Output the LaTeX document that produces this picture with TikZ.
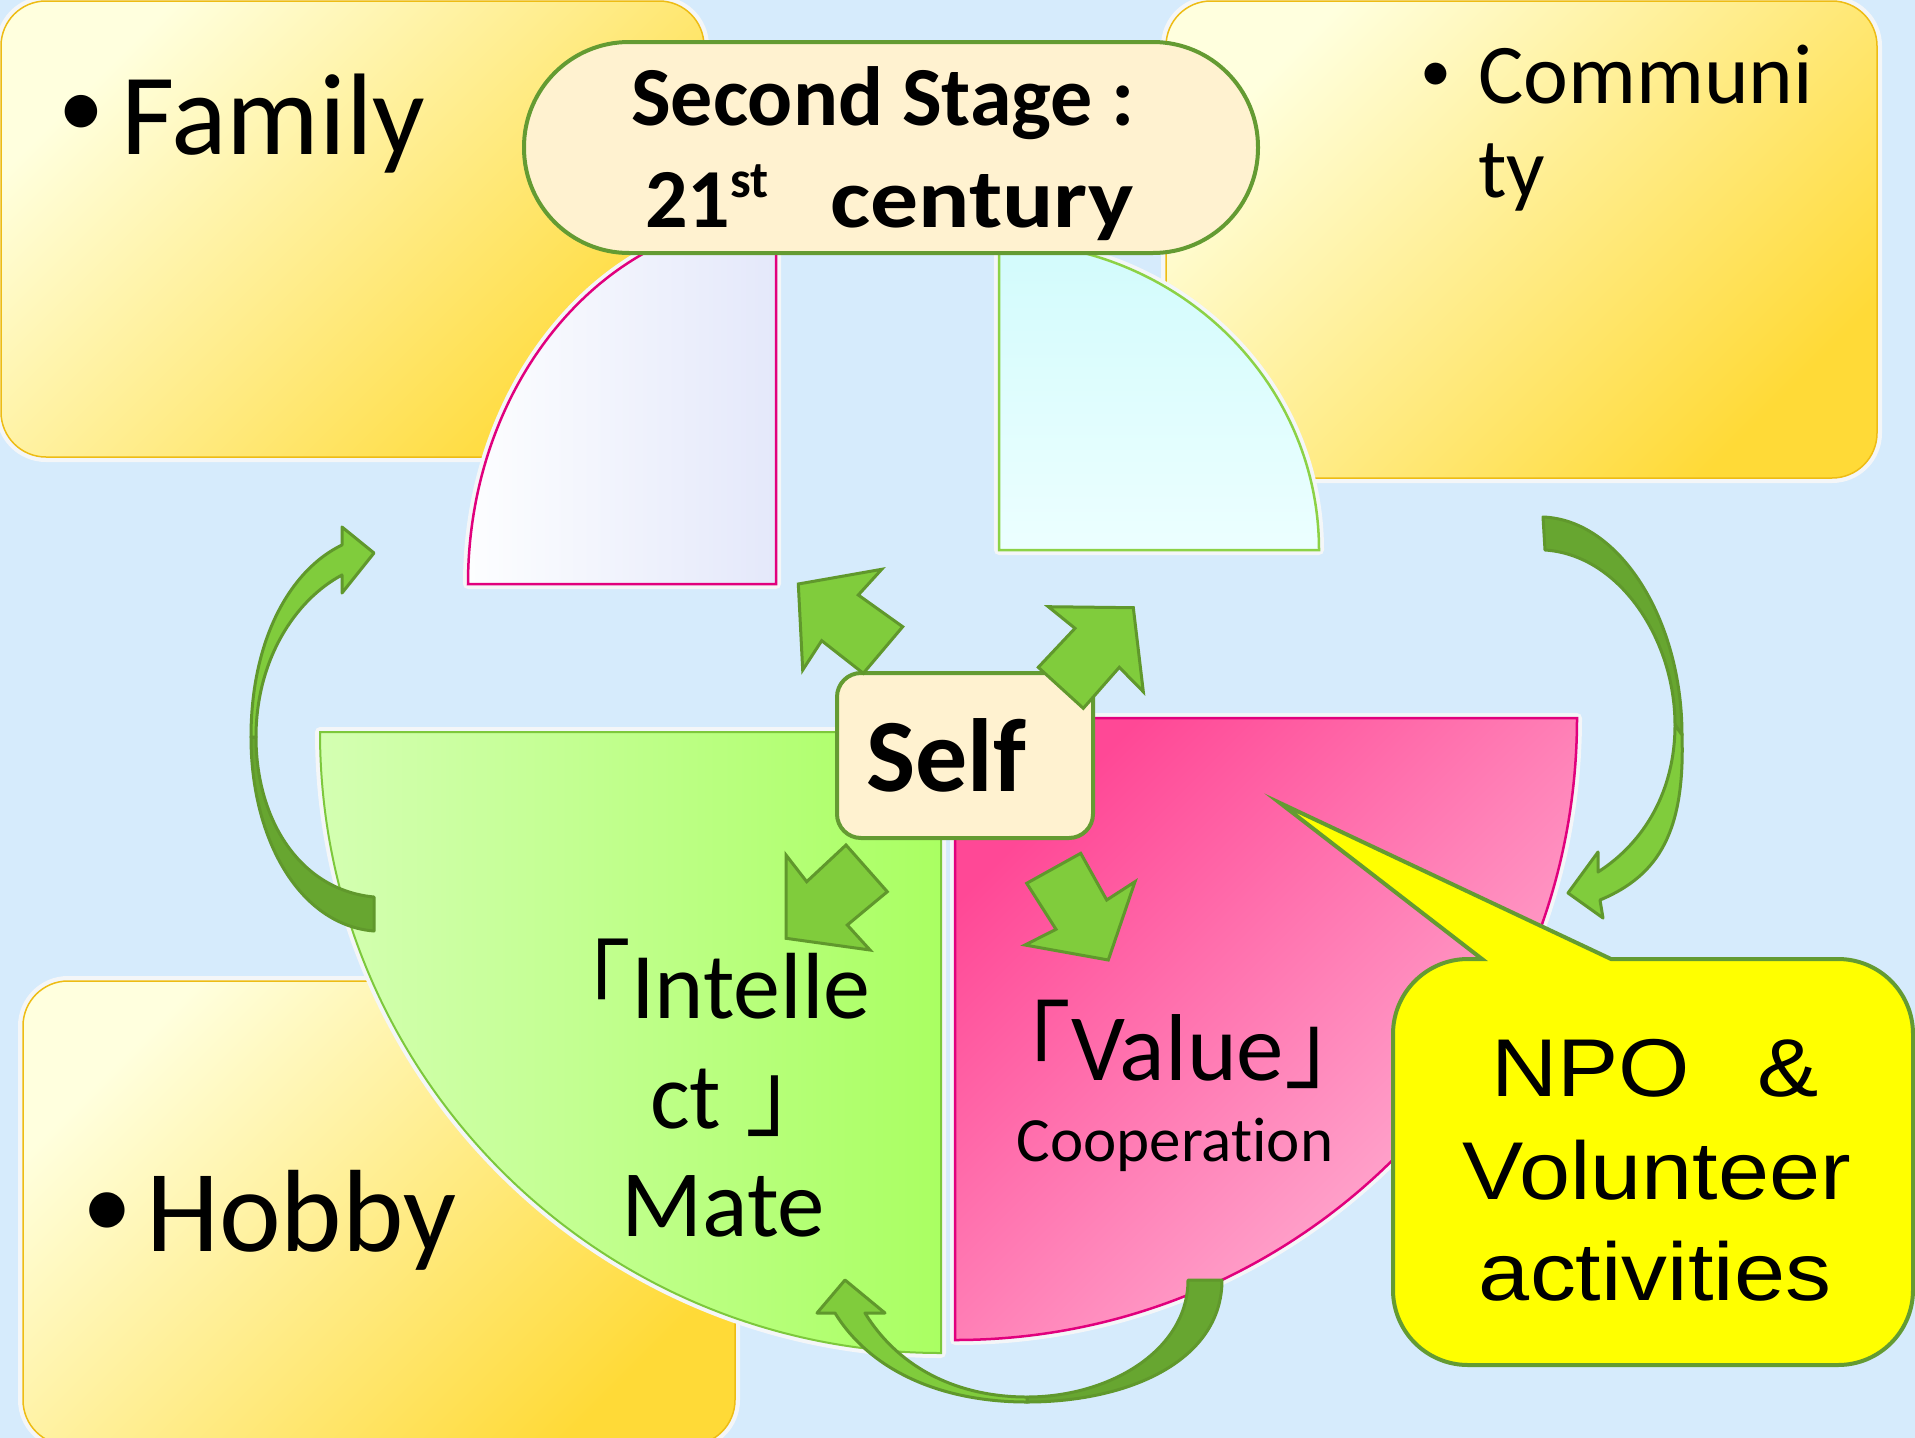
\documentclass[tikz,border=0pt]{standalone}
\usepackage{graphicx}
\usepackage{fontspec}
\setmainfont{Carlito}[Ligatures=NoCommon]
\newfontfamily\arialf{Liberation Sans}
\newfontfamily\cjkf{Noto Sans CJK JP}
\definecolor{bg}{RGB}{214,235,252}
\definecolor{ylight}{RGB}{255,255,222}
\definecolor{ymid}{RGB}{255,250,150}
\definecolor{ydark}{RGB}{255,218,55}
\definecolor{yline}{RGB}{238,188,20}
\definecolor{garrow}{RGB}{128,204,60}
\definecolor{gdark}{RGB}{103,166,48}
\definecolor{gline}{RGB}{96,152,44}
\definecolor{cream}{RGB}{255,242,208}
\definecolor{pilline}{RGB}{100,155,50}
\definecolor{pinkA}{RGB}{255,72,150}
\definecolor{pinkB}{RGB}{255,182,214}
\definecolor{pinkline}{RGB}{225,0,125}
\definecolor{gqA}{RGB}{212,255,178}
\definecolor{gqB}{RGB}{170,255,98}
\definecolor{gqline}{RGB}{125,200,60}
\definecolor{cyA}{RGB}{210,251,252}
\definecolor{cyB}{RGB}{236,255,255}
\definecolor{cyline}{RGB}{140,210,70}
\definecolor{lavA}{RGB}{253,254,255}
\definecolor{lavB}{RGB}{228,232,250}
\definecolor{callout}{RGB}{255,255,0}
\definecolor{glow}{RGB}{244,246,248}
\tikzset{
  ybox/.style={draw=yline, line width=1.5pt, rounded corners=45pt,
    top color=ylight, middle color=ymid, bottom color=ydark, shading angle=45},
  glowline/.style={draw=glow, line width=10pt, line join=round},
  blockarrow/.style={fill=garrow, draw=gline, line width=3pt, line join=miter},
  bandlight/.style={fill=garrow, draw=gline, line width=3pt, line join=round},
  banddark/.style={fill=gdark, draw=gline, line width=3pt, line join=round},
  txt/.style={inner sep=0pt, text=black},
}
\begin{document}
\begin{tikzpicture}[x=1pt,y=-1pt]
\useasboundingbox (0,0) rectangle (1915,1438);
\clip (0,0) rectangle (1915,1438);
\fill[bg] (0,0) rectangle (1915,1438);

% yellow boxes
\path[glowline, rounded corners=45pt] (1,1) rectangle (704,457);
\path[ybox] (1,1) rectangle (704,457);
\path[glowline, rounded corners=45pt] (1166,1) rectangle (1877,478);
\path[ybox] (1166,1) rectangle (1877,478);
\path[glowline, rounded corners=45pt] (23,981) rectangle (735,1445);
\path[ybox] (23,981) rectangle (735,1445);

% top quarters
\path[glowline] (776,584) -- (468,584) arc[start angle=180, end angle=270, x radius=308, y radius=366] -- cycle;
\path[draw=pinkline, line width=2.5pt, left color=lavA, right color=lavB]
  (776,584) -- (468,584) arc[start angle=180, end angle=270, x radius=308, y radius=366] -- cycle;
\path[glowline] (999,550) -- (999,242) arc[start angle=270, end angle=360, x radius=320, y radius=308] -- cycle;
\path[draw=cyline, line width=2.5pt, top color=cyA, bottom color=cyB]
  (999,550) -- (999,242) arc[start angle=270, end angle=360, x radius=320, y radius=308] -- cycle;

% bottom quarters
\path[glowline] (941,732) -- (320,732) arc[start angle=180, end angle=90, radius=621] -- cycle;
\path[draw=gqline, line width=2pt, left color=gqA, right color=gqB]
  (941,732) -- (320,732) arc[start angle=180, end angle=90, radius=621] -- cycle;
\path[glowline] (955,718) -- (1577,718) arc[start angle=0, end angle=90, radius=622] -- cycle;
\path[draw=pinkline, line width=2.5pt, top color=pinkA, bottom color=pinkB, shading angle=45]
  (955,718) -- (1577,718) arc[start angle=0, end angle=90, radius=622] -- cycle;

% texts in boxes
\node[txt, anchor=center, font=\fontsize{92}{100}\selectfont] (bulA) at (81,116) {•};
\node[txt, anchor=base west, font=\fontsize{116}{120}\selectfont] (family) at (121,154) {Family};
\node[txt, anchor=center, font=\fontsize{62}{70}\selectfont] (bulB) at (1436,77) {•};
\node[txt, anchor=base west, font=\fontsize{85}{90}\selectfont] (commA) at (1478,103) {Communi};
\node[txt, anchor=base west, font=\fontsize{85}{90}\selectfont] (commB) at (1478,197) {ty};
\node[txt, anchor=center, font=\fontsize{100}{110}\selectfont] (bulC) at (107,1216) {•};
\node[txt, anchor=base west, font=\fontsize{117}{120}\selectfont] (hobby) at (146,1251) {Hobby};

% quarter texts
\node[txt, anchor=base west, font=\fontsize{94}{100}\selectfont] (intA) at (537,1018) {{\cjkf 「}Intelle};
\node[txt, anchor=base west, font=\fontsize{94}{100}\selectfont] (intB) at (650,1128) {ct\hspace{24pt}{\cjkf 」}};
\node[txt, anchor=base west, font=\fontsize{95}{100}\selectfont] (intC) at (621,1236) {Mate};
\node[txt, anchor=base west, font=\fontsize{95}{100}\selectfont] (valA) at (976,1080) {{\cjkf 「}Value{\cjkf 」}};
\node[txt, anchor=base, font=\fontsize{63}{70}\selectfont] (valB) at (1175,1161) {Cooperation};

% second stage pill
\node[draw=pilline, fill=cream, line width=4pt, rounded corners=105pt,
  minimum width=734pt, minimum height=211pt, inner sep=0pt] (stage) at (891,147.5) {};
\node[txt, anchor=base, font=\bfseries\fontsize{84}{90}\selectfont] (stA) at (883,125) {Second Stage :};
\node[txt, anchor=base west, font=\bfseries\fontsize{84}{90}\selectfont] (stB) at (645,227)
  {21\raisebox{30pt}{\fontsize{52}{56}\selectfont st}\hspace{62pt}\scalebox{1.14}[1]{century}};

% self
\node[draw=pilline, fill=cream, line width=4pt, rounded corners=24pt,
  minimum width=256pt, minimum height=165pt, inner sep=0pt,
  font=\bfseries\fontsize{104}{110}\selectfont] (self) at (965,755.5) {Self\hbox to 38pt{}};

% block arrows around self
\draw[blockarrow] (798.3,584) -- (881.7,569.3) -- (858.3,595) -- (902.7,626.7) -- (863.3,673.3) -- (821.7,640.7) -- (802.7,670) -- cycle;
\draw[blockarrow] (1048.3,606.7) -- (1133.3,607.7) -- (1143.3,691.7) -- (1119.3,667.3) -- (1083.3,708.3) -- (1038.3,667.3) -- (1075,628.3) -- cycle;
\draw[blockarrow] (786,855) -- (806.7,881.7) -- (846,845) -- (887.3,891.7) -- (847.3,925) -- (870,950) -- (786,938.3) -- cycle;
\draw[blockarrow] (1026.7,883.3) -- (1080.7,853.3) -- (1106.7,900) -- (1135,881.7) -- (1108.3,960) -- (1025,945) -- (1056,929.3) -- cycle;

% left curved arrow (tail dark, head light)
\draw[banddark] (374,931) .. controls (300,925) and (251,840) .. (251,737)
  -- (256,737) .. controls (256,820) and (300,890) .. (374,897) -- cycle;
\draw[bandlight] (251,737) .. controls (251,640) and (290,570) .. (342,545)
  -- (342,527) -- (374,553) -- (342,593) -- (342,575)
  .. controls (295,600) and (256,660) .. (256,737) -- cycle;

% right curved arrow
\draw[banddark] (1543,517) .. controls (1620,520) and (1682,620) .. (1682,735)
  -- (1675,725) .. controls (1675,640) and (1620,555) .. (1545,550) -- cycle;
\draw[bandlight] (1682,735) .. controls (1685,830) and (1660,875) .. (1600,900)
  -- (1603,918) -- (1568,893) -- (1598,852) -- (1598,872)
  .. controls (1645,842) and (1675,790) .. (1675,725) -- cycle;

% bottom curved arrow
\draw[banddark] (1222,1280) .. controls (1222,1360) and (1130,1402) .. (1027,1402)
  -- (1027,1397) .. controls (1110,1397) and (1188,1350) .. (1188,1280) -- cycle;
\draw[bandlight] (1027,1402) .. controls (940,1402) and (870,1370) .. (835,1313)
  -- (817,1313) -- (845,1280) -- (885,1313) -- (865,1313)
  .. controls (900,1370) and (960,1397) .. (1027,1397) -- cycle;

% NPO callout
\draw[fill=callout, draw=pilline, line width=4pt, line join=miter]
  (1482,959) -- (1280,803) -- (1611,959) -- (1838,959)
  arc[start angle=270, end angle=360, radius=75] -- (1913,1290)
  arc[start angle=0, end angle=90, radius=75] -- (1468,1365)
  arc[start angle=90, end angle=180, radius=75] -- (1393,1034)
  arc[start angle=180, end angle=270, radius=75] -- cycle;
\node[txt, anchor=base, font=\arialf\fontsize{82}{90}\selectfont] (npoA) at (1655,1096) {\scalebox{1.12}[1]{NPO\hspace{60pt}\&}};
\node[txt, anchor=base, font=\arialf\fontsize{82}{90}\selectfont] (npoB) at (1657,1199) {\scalebox{1.12}[1]{Volunteer}};
\node[txt, anchor=base, font=\arialf\fontsize{82}{90}\selectfont] (npoC) at (1655,1300) {\scalebox{1.12}[1]{activities}};
\end{tikzpicture}
\end{document}
